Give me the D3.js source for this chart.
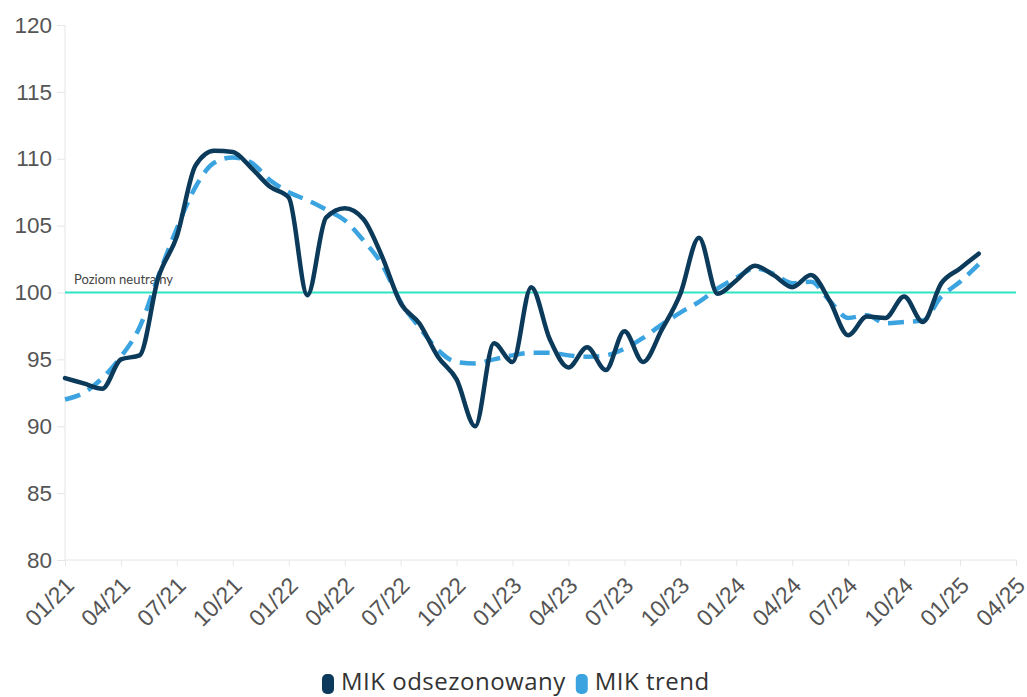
<!DOCTYPE html>
<html>
<head>
<meta charset="utf-8">
<script src="https://cdn.jsdelivr.net/npm/d3@7"></script>
<style>
	body { margin: 0; background: #fff; font-family: Lato, "Open Sans", sans-serif; }
	.axis text { fill: #555; }
	.axis path, .axis line { stroke: #e6e6e6; }
</style>
</head>
<body>
<svg id="chart" width="1027" height="697"></svg>
<script>
// months shown: 01/21 .. 04/25 (data stops at 02/25)
var monthCount = 52;
var tickLabels = ["01/21","04/21","07/21","10/21","01/22","04/22","07/22","10/22","01/23","04/23","07/23","10/23","01/24","04/24","07/24","10/24","01/25","04/25"];
var yTicks = [80, 85, 90, 95, 100, 105, 110, 115, 120];

// MIK seasonally adjusted, monthly from 01/21
var mikSeasonal = [93.6, 93.2, 92.8, 95.0, 95.3, 101.1, 104.2, 109.5, 110.6, 110.5,
	109.3, 107.9, 107.1, 99.8, 105.6, 106.3, 105.5, 102.7, 99.2, 97.7,
	95.2, 93.5, 90.0, 96.2, 94.8, 100.4, 96.5, 94.4, 95.9, 94.2,
	97.1, 94.8, 97.2, 99.9, 104.1, 99.9, 100.9, 102.0, 101.3, 100.4,
	101.3, 99.4, 96.8, 98.2, 98.1, 99.7, 97.8, 100.7, 101.8, 102.9];

// MIK trend
var mikTrend = [92.0, 92.5, 93.6, 95.2, 97.4, 101.2, 104.8, 107.9, 109.7, 110.1,
	109.7, 108.4, 107.5, 106.9, 106.2, 105.4, 103.9, 102.1, 99.3, 97.4,
	95.7, 94.8, 94.7, 95.0, 95.3, 95.5, 95.5, 95.3, 95.2, 95.3,
	95.8, 96.6, 97.6, 98.5, 99.3, 100.3, 101.1, 101.8, 101.4, 100.7,
	100.8, 99.4, 98.1, 98.3, 97.7, 97.8, 97.9, 99.7, 100.8, 102.1];

var neutralLevel = 100;
var seriesNames = ["MIK odsezonowany", "MIK trend"];
var seriesColors = ["#0b3a5a", "#3ba4e0"];

var svg = d3.select("#chart");
var plotLeft = 65, plotRight = 1016, plotTop = 25, plotBottom = 560;

var x = d3.scaleLinear().domain([0, monthCount - 1]).range([plotLeft, plotRight]);
var y = d3.scaleLinear().domain([80, 120]).range([plotBottom, plotTop]);

//y axis
var yAxis = svg.append("g")
	.attr("class", "axis")
	.attr("transform", "translate(" + plotLeft + ",0)")
	.call(d3.axisLeft(y).tickValues(yTicks).tickSize(8).tickPadding(5));
yAxis.select(".domain").attr("d", "M0," + plotTop + "V" + plotBottom);
yAxis.selectAll("text").style("font-size", "22.5px");

//x axis, one tick per quarter
var xAxis = svg.append("g")
	.attr("class", "axis")
	.attr("transform", "translate(0," + plotBottom + ")")
	.call(d3.axisBottom(x)
		.tickValues(tickLabels.map(function(d, i) { return i * 3; }))
		.tickFormat(function(d, i) { return tickLabels[i]; })
		.tickSize(6));
xAxis.select(".domain").attr("d", "M" + plotLeft + ",0H" + plotRight);
xAxis.selectAll("text")
	.style("font-size", "23px")
	.attr("text-anchor", "end")
	.attr("x", 0)
	.attr("y", 0)
	.attr("dx", 0)
	.attr("dy", 0)
	.attr("transform", "translate(10,27) rotate(-45)");

//neutral level
svg.append("line")
	.attr("x1", plotLeft).attr("x2", plotRight)
	.attr("y1", y(neutralLevel)).attr("y2", y(neutralLevel))
	.attr("stroke", "#2fe3c3")
	.attr("stroke-width", 2);
svg.append("text")
	.attr("x", plotLeft + 9)
	.attr("y", y(neutralLevel) - 9)
	.style("font-size", "13px")
	.style("fill", "#444")
	.text("Poziom neutralny");

var line = d3.line()
	.x(function(d, i) { return x(i); })
	.y(function(d) { return y(d); })
	.curve(d3.curveMonotoneX);

svg.append("path")
	.datum(mikTrend)
	.attr("d", line)
	.attr("fill", "none")
	.attr("stroke", seriesColors[1])
	.attr("stroke-width", 4.5)
	.attr("stroke-dasharray", "16,9");

svg.append("path")
	.datum(mikSeasonal)
	.attr("d", line)
	.attr("fill", "none")
	.attr("stroke", seriesColors[0])
	.attr("stroke-width", 4.5)
	.attr("stroke-linejoin", "round")
	.attr("stroke-linecap", "round");

//legend
var legend = svg.append("g").attr("transform", "translate(0,690)");
var lx = 322;
seriesNames.forEach(function(name, i) {
	legend.append("rect")
		.attr("x", lx).attr("y", -16)
		.attr("width", 12).attr("height", 20)
		.attr("rx", 5)
		.attr("fill", seriesColors[i]);
	var t = legend.append("text")
		.attr("x", lx + 19)
		.attr("y", 0)
		.style("font-family", "'Open Sans', sans-serif")
		.style("font-size", "24px")
		.style("letter-spacing", "0.5px")
		.style("fill", "#333")
		.text(name);
	lx += 19 + t.node().getComputedTextLength() + 10;
});
</script>
</body>
</html>
